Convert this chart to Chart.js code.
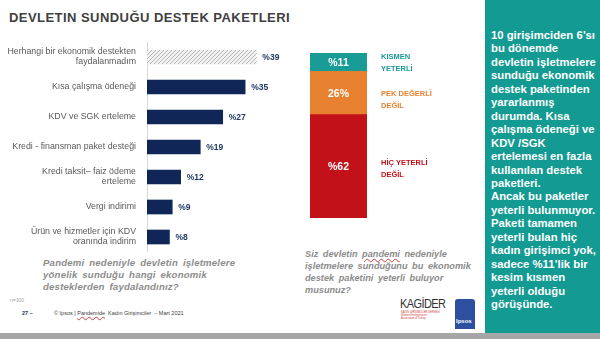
<!DOCTYPE html>
<html>
<head>
<meta charset="utf-8">
<script src="https://cdn.jsdelivr.net/npm/chart.js@4.4.1/dist/chart.umd.min.js"></script>
<style>
    body { margin: 0; width: 600px; height: 339px; overflow: hidden; background: #fff; font-family: Arial, "Liberation Sans", sans-serif; position: relative; }
    .abs { position: absolute; }
    #title { left: 9px; top: 10px; font-size: 13px; font-weight: bold; color: #404040; letter-spacing: 0.45px; }
    .q { font-size: 9.6px; font-weight: bold; font-style: italic; color: #8c8c8c; letter-spacing: 0.2px; word-spacing: 2px; line-height: 12px; white-space: nowrap; }
    #panel { left: 485px; top: 0; width: 115px; height: 333px; background: #139a92; }
    #panel div { position: absolute; left: 6px; top: 29px; color: #fff; font-weight: bold; font-size: 11.3px; line-height: 13.45px; white-space: nowrap; }
    #bottom { left: 0; top: 333px; width: 600px; height: 6px; background: #a6a6a6; }
</style>
</head>
<body>
<div id="title" class="abs">DEVLETIN SUNDUĞU DESTEK PAKETLERI</div>

<canvas id="bars" class="abs" style="left:0;top:42px" width="290" height="210"></canvas>
<canvas id="stack" class="abs" style="left:300px;top:53px" width="175" height="165"></canvas>

<div class="abs q" style="left:43px;top:257px">Pandemi nedeniyle devletin işletmelere<br>yönelik sunduğu hangi ekonomik<br>desteklerden faydalandınız?</div>
<div class="abs q" style="left:305px;top:248px;font-size:9.2px;letter-spacing:0">Siz devletin <span style="text-decoration:underline wavy #d04040 1px">pandemi</span> nedeniyle<br>işletmelere sunduğunu bu ekonomik<br>destek paketini yeterli buluyor<br>musunuz?</div>

<div class="abs" style="left:10px;top:297px;font-size:5px;color:#a0a0a0">n=300</div>
<div class="abs" style="left:22px;top:310px;font-size:5.5px;color:#1f3864;font-weight:bold">27 –</div>
<div class="abs" style="left:54px;top:310px;font-size:5.5px;color:#404040">© Ipsos | <span style="text-decoration:underline wavy #d04040 1px">Pandemide</span>&nbsp; Kadın Girişimciler&nbsp; – Mart 2021</div>

<div class="abs" style="left:400px;top:298px;font-size:11px;color:#333;letter-spacing:-0.6px;transform:scaleY(1.1)">KAGİDER</div>
<div class="abs" style="left:401px;top:311px;width:44px;height:12px;font-size:2.6px;color:#d04040;line-height:3px">KADIN GİRİŞİMCİLER DERNEĞİ<br>Women Entrepreneurs<br>Association of Turkey</div>
<div class="abs" style="left:455px;top:299px;width:20px;height:30px;background:#2c4fa0;border-radius:3px 3px 0 0"></div>
<div class="abs" style="left:456px;top:318px;font-size:6px;color:#fff;font-weight:bold">Ipsos</div>

<div id="panel" class="abs"><div>10 girişimciden 6’sı<br>bu dönemde<br>devletin işletmelere<br>sunduğu ekonomik<br>destek paketinden<br>yararlanmış<br>durumda. Kısa<br>çalışma ödeneği ve<br>KDV /SGK<br>ertelemesi en fazla<br>kullanılan destek<br>paketleri.<br>Ancak bu paketler<br>yeterli bulunmuyor.<br>Paketi tamamen<br>yeterli bulan hiç<br>kadın girişimci yok,<br>sadece %11’lik bir<br>kesim kısmen<br>yeterli olduğu<br>görüşünde.</div></div>
<div id="bottom" class="abs"></div>

<script>
// support packages used (%)
const categories = [
    ["Herhangi bir ekonomik destekten", "faydalanmadım"],
    "Kısa çalışma ödeneği",
    "KDV ve SGK erteleme",
    "Kredi - finansman paket desteği",
    ["Kredi taksit– faiz ödeme", "erteleme"],
    "Vergi indirimi",
    ["Ürün ve hizmetler için KDV", "oranında indirim"],
];
const usedValues = [39, 35, 27, 19, 12, 9, 8];

// is the package sufficient (%), bottom to top
const adequacyLabels = [["HİÇ YETERLİ", "DEĞİL"], ["PEK DEĞERLİ", "DEĞİL"], ["KISMEN", "YETERLİ"]];
const adequacyValues = [62, 26, 11];
const adequacyText = ["%62", "26%", "%11"];
const adequacyColors = ["#c3111a", "#e8812f", "#1a9c96"];

function hatch() {
    const c = document.createElement("canvas");
    c.width = 4; c.height = 4;
    const g = c.getContext("2d");
    g.fillStyle = "#f2f2f2";
    g.fillRect(0, 0, 4, 4);
    g.strokeStyle = "#b5b5b5";
    g.lineWidth = 1;
    g.beginPath();
    g.moveTo(0, 4); g.lineTo(4, 0);
    g.moveTo(-1, 1); g.lineTo(1, -1);
    g.moveTo(3, 5); g.lineTo(5, 3);
    g.stroke();
    return g.createPattern(c, "repeat");
}

const FONT = "Arial, 'Liberation Sans', sans-serif";

const valueLabels = {
    id: "valueLabels",
    afterDatasetsDraw(chart) {
        const ctx = chart.ctx;
        const meta = chart.getDatasetMeta(0);
        ctx.save();
        ctx.font = "bold 8.5px " + FONT;
        ctx.fillStyle = "#1f3864";
        ctx.textBaseline = "middle";
        meta.data.forEach((bar, i) => {
            ctx.fillText("%" + usedValues[i], bar.x + 6, bar.y + 1);
        });
        ctx.restore();
    },
};

new Chart(document.getElementById("bars"), {
    type: "bar",
    data: {
        labels: categories,
        datasets: [{
            data: usedValues,
            backgroundColor: usedValues.map((v, i) => (i === 0 ? hatch() : "#0f2657")),
            barThickness: 14,
        }],
    },
    options: {
        indexAxis: "y",
        responsive: false,
        animation: false,
        layout: { padding: 0 },
        plugins: { legend: { display: false }, tooltip: { enabled: false } },
        scales: {
            x: { display: false, min: 0, max: 51 },
            y: {
                afterFit: (s) => { s.width = 147; s.paddingTop = 0; s.paddingBottom = 0; },
                grid: { display: false },
                border: { display: true, color: "#d9d9d9" },
                ticks: { color: "#595959", font: { size: 8.8, family: FONT, lineHeight: 1.15 }, padding: 3, autoSkip: false },
            },
        },
    },
    plugins: [valueLabels],
});

const stackLabels = {
    id: "stackLabels",
    afterDatasetsDraw(chart) {
        const ctx = chart.ctx;
        const offs = [-3, 1, -5];
        ctx.save();
        chart.data.datasets.forEach((ds, i) => {
            const bar = chart.getDatasetMeta(i).data[0];
            const mid = (bar.y + bar.base) / 2;
            ctx.font = "bold 10.5px " + FONT;
            ctx.fillStyle = "#fff";
            ctx.textAlign = "center";
            ctx.textBaseline = "middle";
            ctx.fillText(adequacyText[i], bar.x, mid + 1);
            ctx.font = "bold 7.5px " + FONT;
            ctx.fillStyle = adequacyColors[i];
            ctx.textAlign = "left";
            const x = bar.x + bar.width / 2 + 14;
            adequacyLabels[i].forEach((l, k) => ctx.fillText(l, x, mid + offs[i] + k * 11.5));
        });
        ctx.restore();
    },
};

new Chart(document.getElementById("stack"), {
    type: "bar",
    data: {
        labels: [""],
        datasets: adequacyValues.map((v, i) => ({
            data: [v],
            backgroundColor: adequacyColors[i],
            barPercentage: 1,
            categoryPercentage: 1,
        })),
    },
    options: {
        responsive: false,
        animation: false,
        layout: { padding: { left: 10, right: 108 } },
        plugins: { legend: { display: false }, tooltip: { enabled: false } },
        scales: {
            x: { display: false, stacked: true },
            y: { display: false, stacked: true, min: 0, max: 99 },
        },
    },
    plugins: [stackLabels],
});
</script>
</body>
</html>
